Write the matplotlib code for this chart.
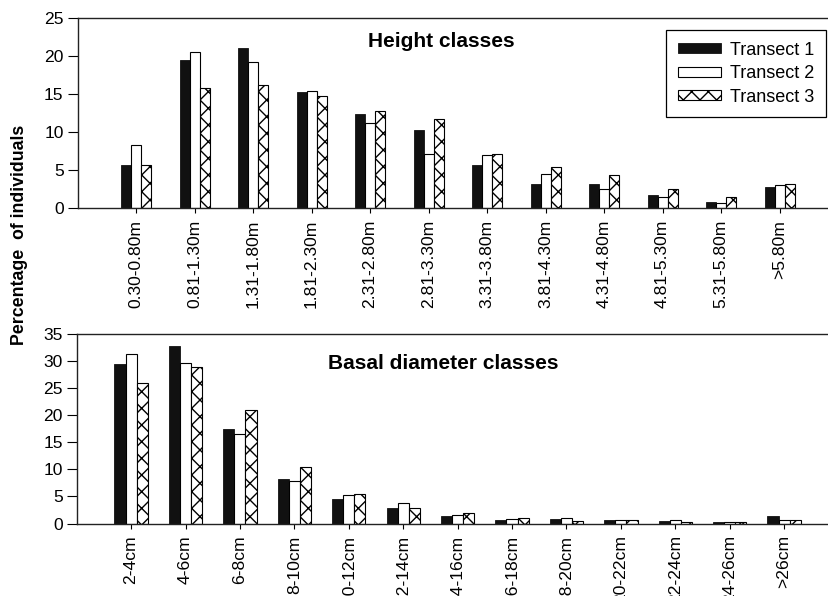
import numpy as np
import matplotlib
matplotlib.use("Agg")
import matplotlib.pyplot as plt

plt.rcParams['font.family'] = ['Liberation Sans', 'DejaVu Sans']
plt.rcParams['hatch.linewidth'] = 1.0

# height classes (% of individuals per transect)
height_classes = ["0.30-0.80m", "0.81-1.30m", "1.31-1.80m", "1.81-2.30m", "2.31-2.80m",
                  "2.81-3.30m", "3.31-3.80m", "3.81-4.30m", "4.31-4.80m", "4.81-5.30m",
                  "5.31-5.80m", ">5.80m"]
height_t1 = [5.6, 19.4, 21.0, 15.3, 12.4, 10.2, 5.6, 3.2, 3.1, 1.7, 0.8, 2.8]
height_t2 = [8.3, 20.5, 19.2, 15.4, 11.2, 7.1, 7.0, 4.5, 2.5, 1.4, 0.6, 3.0]
height_t3 = [5.6, 15.8, 16.2, 14.7, 12.7, 11.7, 7.1, 5.4, 4.3, 2.5, 1.5, 3.2]

# basal diameter classes
diam_classes = ["2-4cm", "4-6cm", "6-8cm", "8-10cm", "10-12cm", "12-14cm", "14-16cm",
                "16-18cm", "18-20cm", "20-22cm", "22-24cm", "24-26cm", ">26cm"]
diam_t1 = [29.4, 32.7, 17.5, 8.2, 4.5, 2.8, 1.3, 0.7, 0.8, 0.6, 0.4, 0.25, 1.3]
diam_t2 = [31.3, 29.7, 16.5, 7.9, 5.3, 3.7, 1.5, 0.9, 1.0, 0.7, 0.7, 0.25, 0.7]
diam_t3 = [26.0, 28.9, 20.9, 10.5, 5.4, 2.9, 2.0, 1.1, 0.55, 0.7, 0.25, 0.3, 0.7]

series_names = ["Transect 1", "Transect 2", "Transect 3"]

fig = plt.figure(figsize=(8.29, 5.96), dpi=100)
ax1 = fig.add_axes([0.0935, 0.651, 0.9175, 0.319])
ax2 = fig.add_axes([0.0925, 0.1216, 0.919, 0.318])


def draw_panel(ax, labels, t1, t2, t3, width, ymax, title, title_x, title_y):
    x = np.arange(len(labels))
    ax.bar(x - width, t1, width, color='#111111', edgecolor='#111111', linewidth=0.6,
           label=series_names[0])
    ax.bar(x, t2, width, color='white', edgecolor='black', linewidth=0.8,
           label=series_names[1])
    ax.bar(x + width, t3, width, color='white', edgecolor='black', linewidth=0.8,
           hatch='xx', label=series_names[2])
    ax.set_xlim(-1, len(labels))
    ax.set_ylim(0, ymax)
    ax.set_yticks(np.arange(0, ymax + 1, 5))
    ax.set_xticks(x)
    ax.set_xticklabels(labels, rotation=90, va='top')
    ax.spines['right'].set_visible(False)
    for s in ['left', 'top', 'bottom']:
        ax.spines[s].set_color('#222222')
        ax.spines[s].set_linewidth(1.0)
    ax.tick_params(axis='y', direction='out', length=7, width=0.8, labelsize=12.6, pad=3)
    ax.tick_params(axis='x', direction='out', length=3.5, width=0.8, labelsize=12.6, pad=5)
    ax.text(title_x, title_y, title, transform=ax.transAxes, ha='center', va='center',
            fontsize=15, fontweight='bold')


draw_panel(ax1, height_classes, height_t1, height_t2, height_t3, 0.171, 25,
           "Height classes", 0.478, 0.875)
draw_panel(ax2, diam_classes, diam_t1, diam_t2, diam_t3, 0.204, 35,
           "Basal diameter classes", 0.481, 0.845)

leg = ax1.legend(loc='upper right', bbox_to_anchor=(826 / 829, 1 - 30 / 596),
                 bbox_transform=fig.transFigure, borderaxespad=0, fontsize=13,
                 fancybox=False, framealpha=1, edgecolor='black',
                 handlelength=2.4, handleheight=0.5, handletextpad=0.5,
                 labelspacing=0.36, borderpad=0.65)
leg.get_frame().set_linewidth(0.9)

fig.text(0.024, 1 - 235 / 596, "Percentage  of individuals", rotation=90,
         ha='center', va='center', fontsize=12.8, fontweight='bold')

fig.savefig("out.png", dpi=100)
